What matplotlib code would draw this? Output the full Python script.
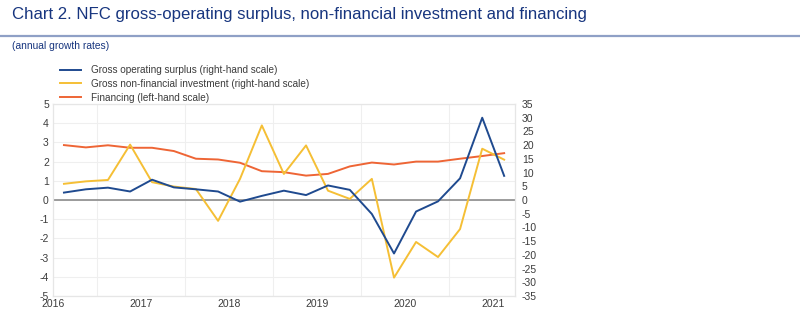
import matplotlib
matplotlib.use("Agg")
import matplotlib.pyplot as plt
import matplotlib.dates as mdates
from matplotlib.lines import Line2D
import pandas as pd

# quarterly observations, 2016Q1 - 2021Q1
quarters = pd.period_range("2016Q1", "2021Q1", freq="Q")

# right-hand scale (annual growth, %)
gross_operating_surplus = [2.7, 3.9, 4.5, 3.1, 7.4, 4.6, 3.9, 3.1, -0.6, 1.5,
                           3.4, 1.8, 5.3, 3.7, -5.1, -19.5, -4.2, -0.5, 7.9, 30.0, 8.8]
gross_nonfin_investment = [5.9, 6.8, 7.3, 20.2, 6.5, 4.9, 4.0, -7.6, 7.7, 27.2,
                           9.5, 19.9, 3.4, 0.4, 7.7, -28.3, -15.3, -20.8, -10.6, 18.7, 14.7]
# left-hand scale
financing = [2.86, 2.74, 2.85, 2.72, 2.72, 2.55, 2.15, 2.11, 1.94, 1.50,
             1.45, 1.27, 1.36, 1.75, 1.95, 1.85, 2.0, 2.0, 2.15, 2.29, 2.44]

labels = ["Gross operating surplus (right-hand scale)",
          "Gross non-financial investment (right-hand scale)",
          "Financing (left-hand scale)"]

blue = "#1f4a8f"
yellow = "#f5bf35"
orange = "#ee6535"
navy = "#17357f"
tick_col = "#3c3c3c"

# mid-quarter dates
dates = [p.start_time + (p.end_time - p.start_time) / 2 for p in quarters]

plt.rcParams["font.family"] = ["Liberation Sans", "DejaVu Sans"]
plt.rcParams["axes.unicode_minus"] = False

fig = plt.figure(figsize=(8, 3.29), dpi=100)
ax = fig.add_axes([53 / 800, 1 - 296 / 329, 462 / 800, 192 / 329])
ax2 = ax.twinx()

ax.plot(dates, financing, color=orange, lw=1.4, zorder=3)
ax2.plot(dates, gross_operating_surplus, color=blue, lw=1.4, zorder=3)
ax2.plot(dates, gross_nonfin_investment, color=yellow, lw=1.4, zorder=2)

ax.axhline(0, color="#8c8c8c", lw=1.2, zorder=1)

ax.set_ylim(-5, 5)
ax.set_yticks(range(-5, 6))
ax2.set_ylim(-35, 35)
ax2.set_yticks(range(-35, 36, 5))
ax.set_xlim(pd.Timestamp("2016-01-01"), pd.Timestamp("2021-04-01"))
ax.xaxis.set_major_locator(mdates.YearLocator())
ax.xaxis.set_major_formatter(mdates.DateFormatter("%Y"))
ax.xaxis.set_minor_locator(mdates.MonthLocator(bymonth=7))

ax.grid(axis="y", which="major", color="#efefef", lw=0.8)
ax.grid(axis="x", which="minor", color="#efefef", lw=0.8)
ax.set_axisbelow(True)

for a in (ax, ax2):
    for s in a.spines.values():
        s.set_color("#e6e6e6")
        s.set_linewidth(0.8)
    a.tick_params(which="both", length=0, labelsize=7.5, colors=tick_col)
ax.tick_params(axis="y", pad=3)
ax.tick_params(axis="x", pad=2.5)
ax2.tick_params(axis="y", pad=5)

# header
fig.text(12 / 800, 1 - 15 / 329, "Chart 2. NFC gross-operating surplus, non-financial investment and financing",
         color=navy, fontsize=12.1, va="center", ha="left")
fig.add_artist(Line2D([0, 1], [1 - 36 / 329] * 2, color="#8fa0c6", lw=1.6))
fig.text(12 / 800, 1 - 46 / 329, "(annual growth rates)", color=navy, fontsize=7.4, va="center", ha="left")

handles = [Line2D([], [], color=blue, lw=1.4),
           Line2D([], [], color=yellow, lw=1.4),
           Line2D([], [], color=orange, lw=1.4)]
fig.legend(handles, labels, loc="upper left", bbox_to_anchor=(60 / 800, 1 - 65 / 329),
           frameon=False, fontsize=7.2, handlelength=2.1, handletextpad=1.0,
           labelspacing=0.38, borderpad=0, borderaxespad=0, labelcolor=tick_col)

fig.savefig("out.png", dpi=100)
